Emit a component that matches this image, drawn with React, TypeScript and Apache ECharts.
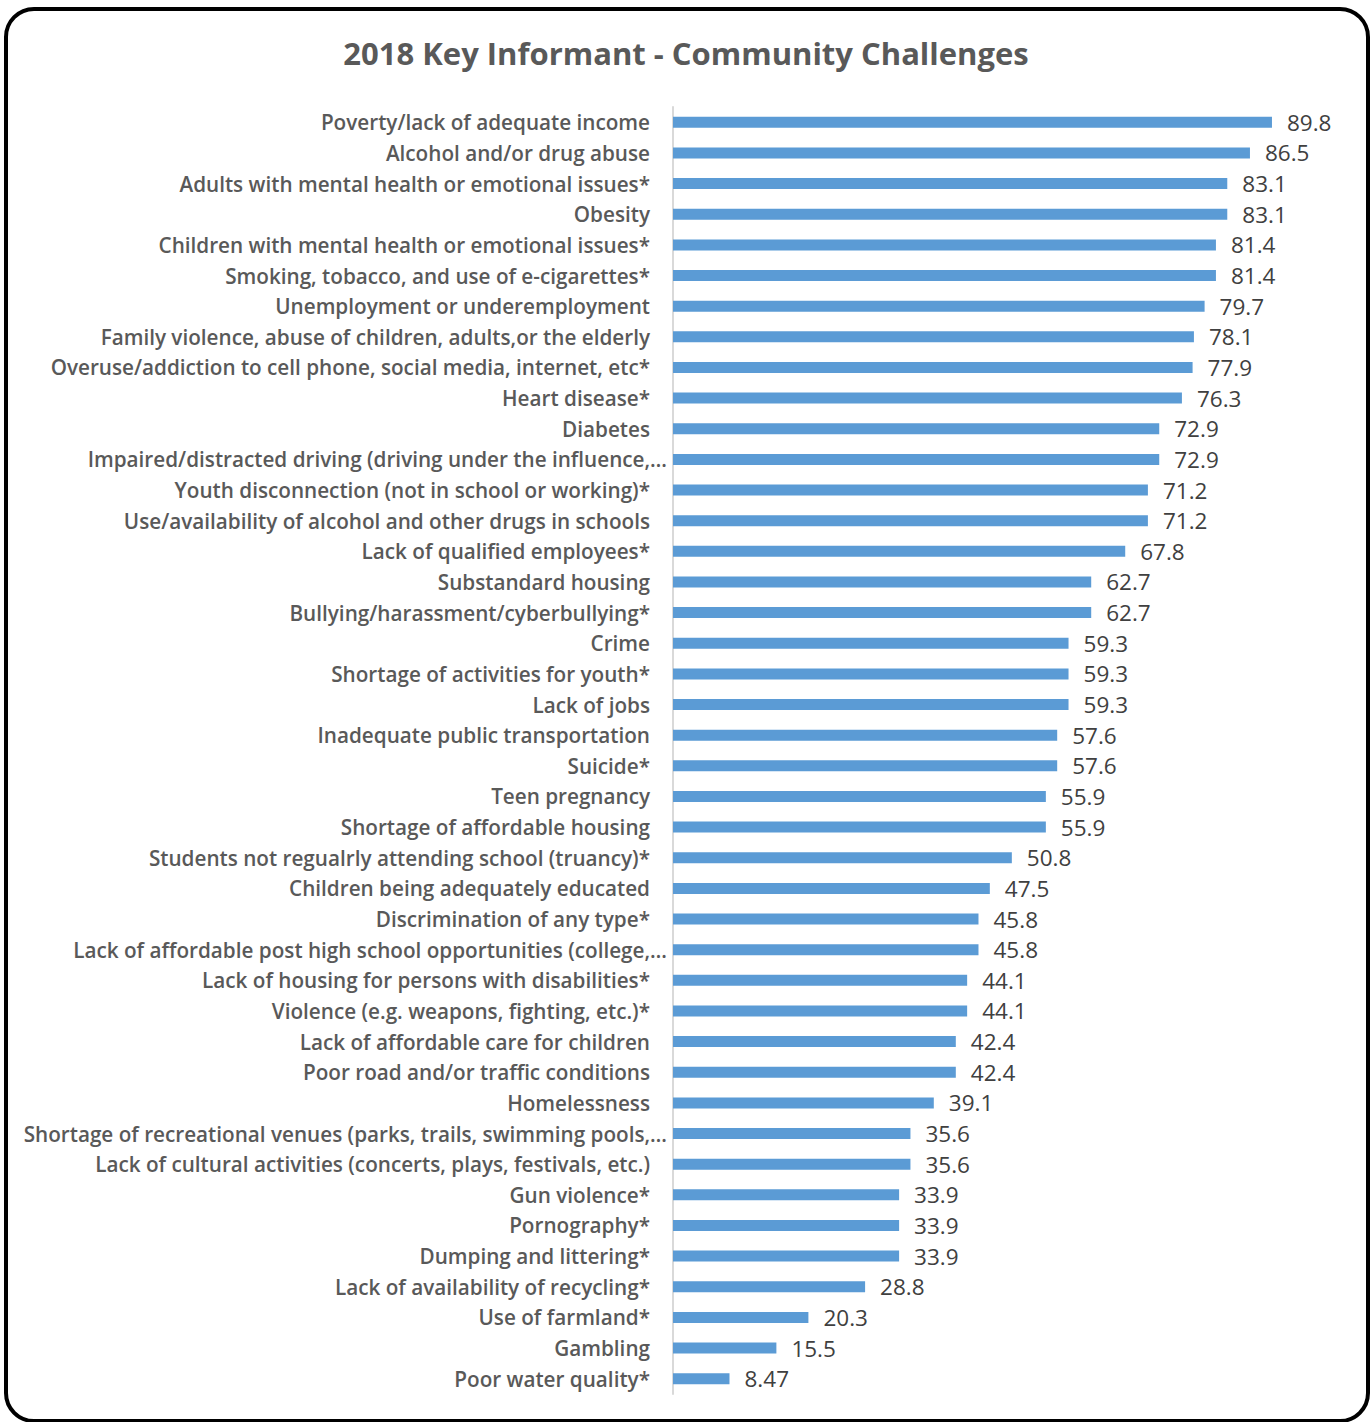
import React, { useEffect, useRef } from "react";
import * as echarts from "echarts";

const categories: string[] = [
  "Poverty/lack of adequate income",
  "Alcohol and/or drug abuse",
  "Adults with mental health or emotional issues*",
  "Obesity",
  "Children with mental health or emotional issues*",
  "Smoking, tobacco, and use of e-cigarettes*",
  "Unemployment or underemployment",
  "Family violence, abuse of children, adults,or the elderly",
  "Overuse/addiction to cell phone, social media, internet, etc*",
  "Heart disease*",
  "Diabetes",
  "Impaired/distracted driving (driving under the influence,…",
  "Youth disconnection (not in school or working)*",
  "Use/availability of alcohol and other drugs in schools",
  "Lack of qualified employees*",
  "Substandard housing",
  "Bullying/harassment/cyberbullying*",
  "Crime",
  "Shortage of activities for youth*",
  "Lack of jobs",
  "Inadequate public transportation",
  "Suicide*",
  "Teen pregnancy",
  "Shortage of affordable housing",
  "Students not regualrly attending school (truancy)*",
  "Children being adequately educated",
  "Discrimination of any type*",
  "Lack of affordable post high school opportunities (college,…",
  "Lack of housing for persons with disabilities*",
  "Violence (e.g. weapons, fighting, etc.)*",
  "Lack of affordable care for children",
  "Poor road and/or traffic conditions",
  "Homelessness",
  "Shortage of recreational venues (parks, trails, swimming pools,…",
  "Lack of cultural activities (concerts, plays, festivals, etc.)",
  "Gun violence*",
  "Pornography*",
  "Dumping and littering*",
  "Lack of availability of recycling*",
  "Use of farmland*",
  "Gambling",
  "Poor water quality*",
];

const values: number[] = [
  89.8, 86.5, 83.1, 83.1, 81.4, 81.4, 79.7, 78.1, 77.9, 76.3, 72.9, 72.9, 71.2,
  71.2, 67.8, 62.7, 62.7, 59.3, 59.3, 59.3, 57.6, 57.6, 55.9, 55.9, 50.8, 47.5,
  45.8, 45.8, 44.1, 44.1, 42.4, 42.4, 39.1, 35.6, 35.6, 33.9, 33.9, 33.9, 28.8,
  20.3, 15.5, 8.47,
];

const chartTitle = "2018 Key Informant - Community Challenges";

const labelFont = {
  fontFamily: "Open Sans",
  fontSize: 20.7,
  fontWeight: 600,
  color: "#595959",
};

export default function App() {
  const ref = useRef<HTMLDivElement>(null);
  useEffect(() => {
    if (!ref.current) return;
    const chart = echarts.init(ref.current, undefined, { renderer: "svg" });
    chart.setOption({
      animation: false,
      backgroundColor: "#ffffff",
      graphic: [
        {
          type: "rect",
          shape: { x: 6, y: 9, width: 1362, height: 1412, r: 28 },
          style: { fill: "none", stroke: "#000000", lineWidth: 4 },
          z: 100,
        },
      ],
      title: {
        text: chartTitle,
        left: "center",
        top: 32,
        textStyle: {
          fontFamily: "Open Sans",
          fontSize: 31,
          fontWeight: "bold",
          color: "#595959",
        },
      },
      grid: {
        left: 673,
        top: 107,
        width: 667,
        height: 1287,
        containLabel: false,
      },
      xAxis: {
        type: "value",
        min: 0,
        max: 100,
        show: false,
      },
      yAxis: {
        type: "category",
        data: categories,
        inverse: true,
        axisLine: { show: true, lineStyle: { color: "#d9d9d9", width: 2 } },
        axisTick: { show: false },
        axisLabel: {
          margin: 23,
          ...labelFont,
          formatter: (v: string) =>
            v.endsWith("…") ? `{t|${v.slice(0, -1)}}{e|…}` : v,
          rich: {
            t: { ...labelFont },
            e: { ...labelFont, padding: [0, -17, 0, 0] },
          },
        },
        splitLine: { show: false },
      },
      series: [
        {
          type: "bar",
          data: values,
          barWidth: 11,
          itemStyle: { color: "#5b9bd5" },
          label: {
            show: true,
            position: "right",
            distance: 15,
            fontFamily: "Open Sans",
            fontSize: 22.5,
            color: "#404040",
            formatter: (p: any) => String(p.value),
          },
        },
      ],
    });
    return () => chart.dispose();
  }, []);
  return (
    <div
      ref={ref}
      style={{ position: "absolute", left: 0, top: 0, width: 1372, height: 1422 }}
    />
  );
}
